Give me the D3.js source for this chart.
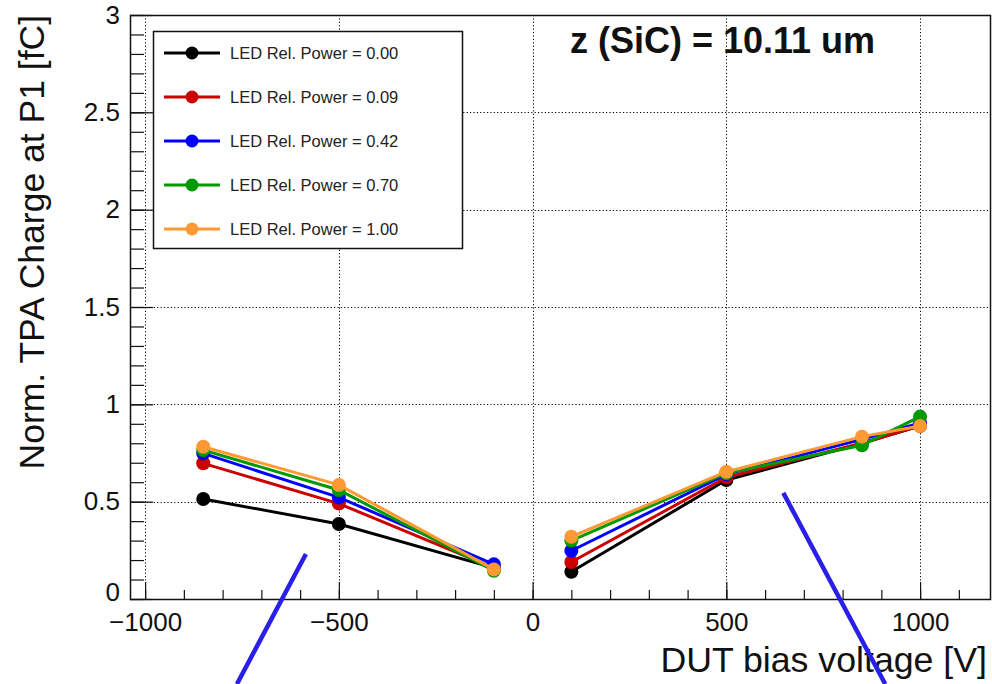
<!DOCTYPE html>
<html>
<head>
<meta charset="utf-8">
<script src="https://cdn.jsdelivr.net/npm/d3@7"></script>
<style>
body { margin: 0; background: #fff; }
svg { display: block; font-family: "Liberation Sans", Arial, Helvetica, sans-serif; }
</style>
</head>
<body>
<div id="graph"></div>
<script>
// bias voltages [V]
var voltages = [-850, -500, -100, 100, 500, 850, 1000];
// normalized TPA charge per LED power
var power000 = [0.514, 0.385, 0.160, 0.140, 0.611, 0.800, 0.890];
var power009 = [0.697, 0.490, 0.160, 0.190, 0.625, 0.800, 0.890];
var power042 = [0.748, 0.522, 0.178, 0.248, 0.640, 0.820, 0.905];
var power070 = [0.765, 0.560, 0.145, 0.300, 0.646, 0.790, 0.937];
var power100 = [0.782, 0.586, 0.152, 0.320, 0.654, 0.834, 0.889];
var seriesNames = ["LED Rel. Power = 0.00", "LED Rel. Power = 0.09", "LED Rel. Power = 0.42",
                   "LED Rel. Power = 0.70", "LED Rel. Power = 1.00"];
var seriesColors = ["#000000", "#cc0000", "#0000ff", "#009900", "#ff9933"];
var xTicks = [-1000, -500, 0, 500, 1000];
var yTicks = [0, 0.5, 1, 1.5, 2, 2.5, 3];
// hand drawn blue strokes, in data coordinates
var strokeA = [[-585, 0.231], [-763, -0.437]];
var strokeB = [[647, 0.545], [910, -0.437]];

var W = 992, H = 684;
var frame = {left: 130, right: 991, top: 15, bottom: 599};

var svg = d3.select('#graph').append('svg')
    .attr('width', W)
    .attr('height', H);
svg.append('rect').attr('width', W).attr('height', H).attr('fill', '#fff');

var x = d3.scaleLinear().domain([-1039, 1183]).range([frame.left, frame.right]);
var y = d3.scaleLinear().domain([0, 3]).range([frame.bottom, frame.top]);

// grid (dotted)
var grid = svg.append('g').attr('stroke', '#000').attr('stroke-width', 1)
    .attr('stroke-dasharray', '1.2,2.2');
grid.selectAll('line.gx').data(xTicks).enter().append('line')
    .attr('x1', function(d){ return Math.round(x(d)) + 0.5; })
    .attr('x2', function(d){ return Math.round(x(d)) + 0.5; })
    .attr('y1', frame.top).attr('y2', frame.bottom);
grid.selectAll('line.gy').data(yTicks.slice(1, -1)).enter().append('line')
    .attr('y1', function(d){ return Math.round(y(d)) + 0.5; })
    .attr('y2', function(d){ return Math.round(y(d)) + 0.5; })
    .attr('x1', frame.left).attr('x2', frame.right);

// axes, ticks pointing inward like ROOT
var xMinor = d3.range(-1000, 1101, 100);
var yMinor = d3.range(0, 31).map(function(i){ return i / 10; });
var xAxisMinor = d3.axisBottom(x).tickValues(xMinor).tickSize(-9).tickFormat('');
var xAxisMajor = d3.axisBottom(x).tickValues(xTicks).tickSize(-17).tickPadding(24)
    .tickFormat(function(d){ return d < 0 ? '\u2212' + Math.abs(d) : d; });
var yAxisMinor = d3.axisLeft(y).tickValues(yMinor).tickSize(-14).tickFormat('');
var yAxisMajor = d3.axisLeft(y).tickValues(yTicks).tickSize(-23).tickPadding(10)
    .tickFormat(function(d){ return d; });

[xAxisMinor, xAxisMajor].forEach(function(ax){
    svg.append('g').attr('class', 'x axis')
        .attr('transform', 'translate(0,' + frame.bottom + ')')
        .call(ax);
});
[yAxisMinor, yAxisMajor].forEach(function(ax){
    svg.append('g').attr('class', 'y axis')
        .attr('transform', 'translate(' + frame.left + ',0)')
        .call(ax);
});
svg.selectAll('.axis .domain').remove();
svg.selectAll('.axis line').attr('stroke', '#111').attr('stroke-width', 1.2);
svg.selectAll('.axis text').attr('font-size', 26).attr('fill', '#111')
    .attr('font-family', '"Liberation Sans", Arial, sans-serif');
svg.selectAll('.x.axis text').attr('dy', '0.3em');
// lift the "0" of the y axis a little, as ROOT does
svg.selectAll('.y.axis text').filter(function(d){ return d === 0; }).attr('dy', '0.05em');

// frame
svg.append('rect')
    .attr('x', frame.left + 0.5).attr('y', frame.top + 0.5)
    .attr('width', frame.right - frame.left - 1).attr('height', frame.bottom - frame.top)
    .attr('fill', 'none').attr('stroke', '#111').attr('stroke-width', 1.5);

// data lines
var allSeries = [power000, power009, power042, power070, power100];
var data2line = d3.line()
    .x(function(d){ return x(d.x); })
    .y(function(d){ return y(d.y); });
allSeries.forEach(function(vals, k){
    var pts = voltages.map(function(v, i){ return {x: v, y: vals[i]}; });
    var seg1 = pts.slice(0, 3), seg2 = pts.slice(3);
    var g = svg.append('g');
    [seg1, seg2].forEach(function(seg){
        g.append('path').attr('d', data2line(seg))
            .attr('fill', 'none')
            .attr('stroke', seriesColors[k])
            .attr('stroke-width', 3);
    });
    g.selectAll('circle').data(pts).enter().append('circle')
        .attr('cx', function(d){ return x(d.x); })
        .attr('cy', function(d){ return y(d.y); })
        .attr('r', 7)
        .attr('fill', seriesColors[k]);
});

// legend
var legend = svg.append('g').attr('class', 'legend');
legend.append('rect')
    .attr('x', 153.5).attr('y', 31.5).attr('width', 309).attr('height', 217)
    .attr('fill', '#fff').attr('stroke', '#111').attr('stroke-width', 1.5);
var ly = d3.scaleLinear().domain([0, 4]).range([53, 229]);
var items = legend.selectAll('g.item').data(seriesNames).enter().append('g')
    .attr('transform', function(d, i){ return 'translate(0,' + ly(i) + ')'; });
items.append('line').attr('x1', 164).attr('x2', 220).attr('y1', 0).attr('y2', 0)
    .attr('stroke', function(d, i){ return seriesColors[i]; }).attr('stroke-width', 3);
items.append('circle').attr('cx', 192).attr('cy', 0).attr('r', 6.5)
    .attr('fill', function(d, i){ return seriesColors[i]; });
items.append('text').attr('x', 230).attr('y', 0).attr('dy', '0.36em')
    .attr('font-size', 16.5).attr('fill', '#222')
    .text(function(d){ return d; });

// annotation text
svg.append('text').attr('x', 570).attr('y', 53)
    .attr('font-size', 36).attr('font-weight', 'bold').attr('fill', '#111')
    .text('z (SiC) = 10.11 um');

// axis titles
svg.append('text').attr('x', 987).attr('y', 672)
    .attr('text-anchor', 'end').attr('font-size', 35.7).attr('fill', '#111')
    .text('DUT bias voltage [V]');
svg.append('text')
    .attr('transform', 'translate(44,15) rotate(-90)')
    .attr('text-anchor', 'end').attr('font-size', 35.5).attr('fill', '#111')
    .text('Norm. TPA Charge at P1 [fC]');

// blue hand strokes
[strokeA, strokeB].forEach(function(s){
    svg.append('line')
        .attr('x1', x(s[0][0])).attr('y1', y(s[0][1]))
        .attr('x2', x(s[1][0])).attr('y2', y(s[1][1]))
        .attr('stroke', '#2a1fe6').attr('stroke-width', 4.5);
});
</script>
</body>
</html>
